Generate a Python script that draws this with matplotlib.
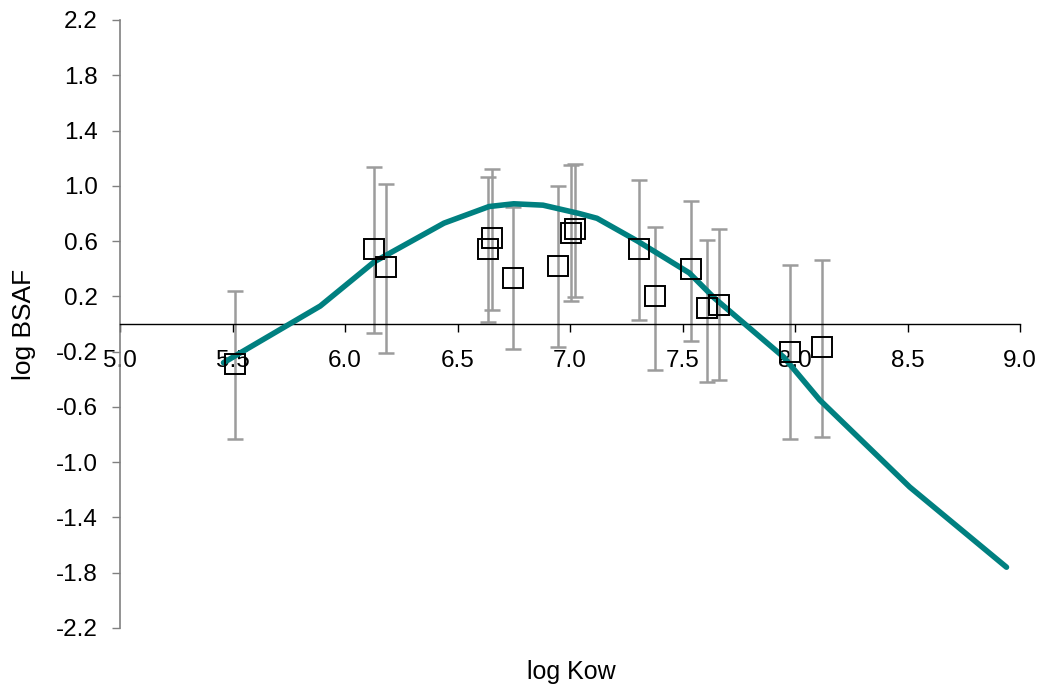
import matplotlib
matplotlib.use("Agg")
import matplotlib.pyplot as plt
import numpy as np
from matplotlib.ticker import FixedLocator, FuncFormatter

plt.rcParams['font.family'] = ['Liberation Sans', 'DejaVu Sans']

# measured log Kow / log BSAF with the ends of each error bar
log_kow = [5.51, 6.13, 6.18, 6.637, 6.655, 6.747, 6.948, 7.003, 7.02,
           7.307, 7.379, 7.536, 7.609, 7.664, 7.976, 8.12]
log_bsaf = [-0.29, 0.54, 0.41, 0.545, 0.62, 0.335, 0.42, 0.66, 0.69,
            0.545, 0.20, 0.395, 0.113, 0.14, -0.20, -0.17]
bsaf_high = [0.237, 1.136, 1.01, 1.066, 1.12, 0.849, 1.0, 1.15, 1.16,
             1.04, 0.70, 0.89, 0.61, 0.685, 0.43, 0.463]
bsaf_low = [-0.834, -0.065, -0.21, 0.012, 0.10, -0.18, -0.166, 0.166, 0.195,
            0.03, -0.33, -0.12, -0.42, -0.405, -0.834, -0.82]

# model curve
model_kow = [5.46, 5.89, 6.13, 6.44, 6.64, 6.75, 6.88, 7.04, 7.12,
             7.30, 7.53, 7.64, 7.95, 8.11, 8.51, 8.94]
model_bsaf = [-0.28, 0.13, 0.45, 0.73, 0.85, 0.87, 0.86, 0.80, 0.765,
              0.60, 0.37, 0.19, -0.24, -0.55, -1.18, -1.76]

x_ticks = [5.0, 5.5, 6.0, 6.5, 7.0, 7.5, 8.0, 8.5, 9.0]
y_ticks = [-2.2, -1.8, -1.4, -1.0, -0.6, -0.2, 0.2, 0.6, 1.0, 1.4, 1.8, 2.2]

fig = plt.figure(figsize=(10.51, 6.9), dpi=100)
ax = fig.add_axes([120 / 1051, 62 / 690, 900 / 1051, 608 / 690])

y = np.array(log_bsaf)
yerr = [y - np.array(bsaf_low), np.array(bsaf_high) - y]
ax.errorbar(log_kow, log_bsaf, yerr=yerr, fmt='none', ecolor='#9c9c9c',
            elinewidth=1.8, capsize=6, capthick=1.8, zorder=2)
ax.plot(model_kow, model_bsaf, color='#008080', lw=4,
        solid_capstyle='round', zorder=3)
ax.plot(log_kow, log_bsaf, 's', ms=14, mfc='none', mec='black', mew=1.4,
        zorder=4)

ax.set_xlim(5.0, 9.0)
ax.set_ylim(-2.2, 2.2)
ax.xaxis.set_major_locator(FixedLocator(x_ticks))
ax.yaxis.set_major_locator(FixedLocator(y_ticks))
ax.xaxis.set_major_formatter(FuncFormatter(lambda v, p: f"{v:.1f}"))
ax.yaxis.set_major_formatter(FuncFormatter(lambda v, p: f"{v:.1f}".replace('\u2212', '-')))

ax.spines['top'].set_visible(False)
ax.spines['right'].set_visible(False)
ax.spines['bottom'].set_position(('data', 0))
ax.spines['bottom'].set_color('black')
ax.spines['bottom'].set_linewidth(1.0)
ax.spines['left'].set_color('#808080')
ax.spines['left'].set_linewidth(1.2)

ax.tick_params(axis='x', direction='out', length=6, width=1, color='black',
               labelsize=17.5, pad=13)
ax.tick_params(axis='y', direction='out', length=6, width=1, color='#808080',
               labelsize=17.5, pad=10)

ax.set_xlabel('log Kow', fontsize=18, va='center')
ax.xaxis.set_label_coords(0.501, -0.072)
ax.set_ylabel('log BSAF', fontsize=19, va='center')
ax.yaxis.set_label_coords(-0.107, 0.5)

fig.savefig('out.png', dpi=100)
